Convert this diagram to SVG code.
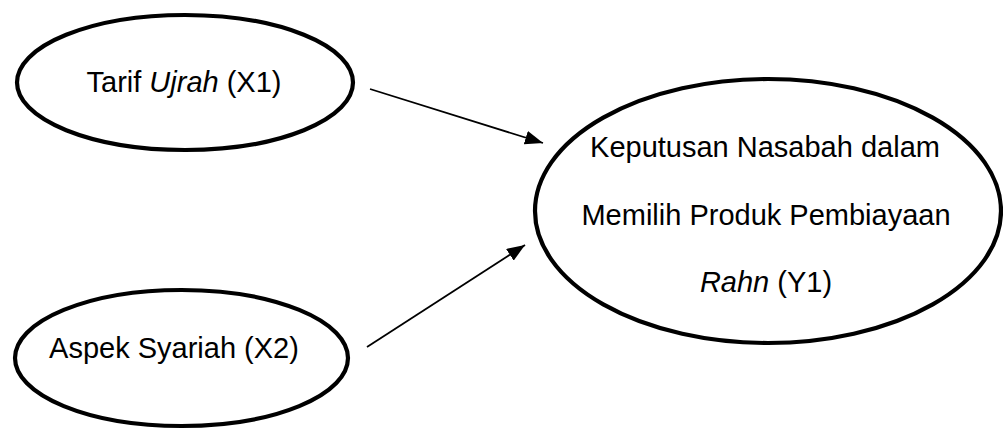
<svg xmlns="http://www.w3.org/2000/svg" width="1003" height="430" viewBox="0 0 1003 430">
  <style>
    .node ellipse { fill: #ffffff; stroke: #000000; stroke-width: 4.2; }
    .lbl { font-family: "Liberation Sans", Arial, sans-serif; font-size: 29px; fill: #000000; text-anchor: middle; }
    .it { font-style: italic; }
    .conn line { stroke: #000000; stroke-width: 1.8; fill: none; }
  </style>
  <defs>
    <marker id="arrow" viewBox="0 0 18 14" refX="18" refY="7" markerUnits="userSpaceOnUse" markerWidth="18" markerHeight="14" orient="auto" preserveAspectRatio="none">
      <path d="M0,0 L18,7 L0,14 Z" fill="#000000"/>
    </marker>
  </defs>
  <rect width="1003" height="430" fill="#ffffff"/>

  <g id="node-x1" class="node">
    <ellipse cx="185" cy="82.5" rx="168" ry="67.5"/>
    <text class="lbl" x="184" y="92">Tarif <tspan class="it">Ujrah</tspan> (X1)</text>
  </g>

  <g id="node-x2" class="node">
    <ellipse cx="181.5" cy="358" rx="166.5" ry="68"/>
    <text class="lbl" x="174" y="358">Aspek Syariah (X2)</text>
  </g>

  <g id="node-y1" class="node">
    <ellipse cx="768" cy="211" rx="233" ry="132"/>
    <text class="lbl" x="765" y="157">Keputusan Nasabah dalam</text>
    <text class="lbl" x="766" y="225">Memilih Produk Pembiayaan</text>
    <text class="lbl" x="766" y="292"><tspan class="it">Rahn</tspan> (Y1)</text>
  </g>

  <g id="connectors" class="conn">
    <line x1="370" y1="89" x2="543" y2="143" marker-end="url(#arrow)"/>
    <line x1="367" y1="347" x2="525" y2="245" marker-end="url(#arrow)"/>
  </g>
</svg>
